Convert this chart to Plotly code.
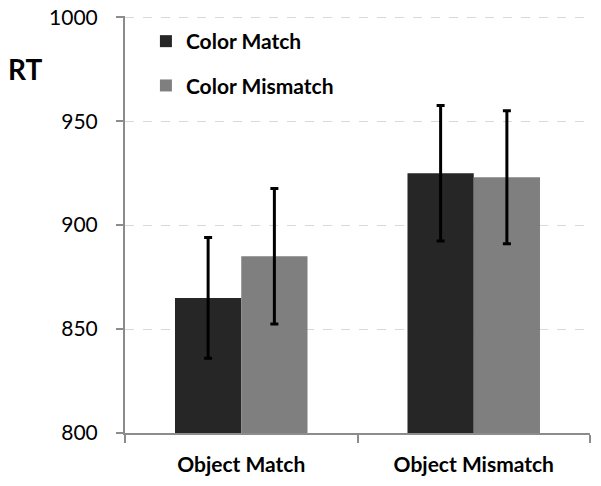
import plotly.graph_objects as go

categories = ["Object Match", "Object Mismatch"]
series_names = ["Color Match", "Color Mismatch"]
color_match = [865, 925]
color_match_err = [29, 32.6]
color_mismatch = [885, 923]
color_mismatch_err = [32.6, 32]
y_ticks = [800, 850, 900, 950, 1000]

colors = ["#262626", "#7f7f7f"]
values = [color_match, color_mismatch]
errors = [color_match_err, color_mismatch_err]

fig = go.Figure()
for i, name in enumerate(series_names):
    fig.add_trace(go.Bar(
        x=categories, y=values[i], name=name,
        marker=dict(color=colors[i], line=dict(width=0)),
        error_y=dict(type="data", array=errors[i], color="black", thickness=3, width=4),
        legendgroup=name,
    ))

fig.add_annotation(text="<b>RT</b>", xref="paper", yref="paper", x=-0.255, y=0.873,
                   xanchor="left", yanchor="middle", showarrow=False,
                   font=dict(size=28, color="black", family="Lato"))

# page body has an 8px default margin, so the figure is a bit smaller than the window
fig.update_layout(
    width=593, height=478,
    paper_bgcolor="white", plot_bgcolor="white",
    margin=dict(l=117, r=11, t=8, b=53, autoexpand=False),
    barmode="group", bargap=0.43, bargroupgap=0,
    font=dict(family="Lato", color="black"),
    legend=dict(x=0.045, y=0.988, xanchor="left", yanchor="top",
                font=dict(size=21, family="Lato", weight="bold"),
                tracegroupgap=14, bgcolor="rgba(0,0,0,0)"),
    xaxis=dict(showline=True, linecolor="#8c8c8c", linewidth=2, automargin=False,
               ticks="outside", tickson="boundaries", ticklen=8, tickcolor="#8c8c8c", tickwidth=2,
               tickfont=dict(size=21, family="Lato", weight="bold"), ticklabelstandoff=12),
    yaxis=dict(range=[800, 1000.6], tickvals=y_ticks, showline=True, linecolor="#8c8c8c", linewidth=2,
               automargin=False, ticklabeloverflow="allow",
               ticks="outside", ticklen=7, tickcolor="#8c8c8c", tickwidth=2,
               showgrid=True, gridcolor="#d9d9d9", griddash="dash", gridwidth=1,
               tickfont=dict(size=21, family="Lato"), ticklabelstandoff=14, zeroline=False),
)

fig.write_html("out.html")
